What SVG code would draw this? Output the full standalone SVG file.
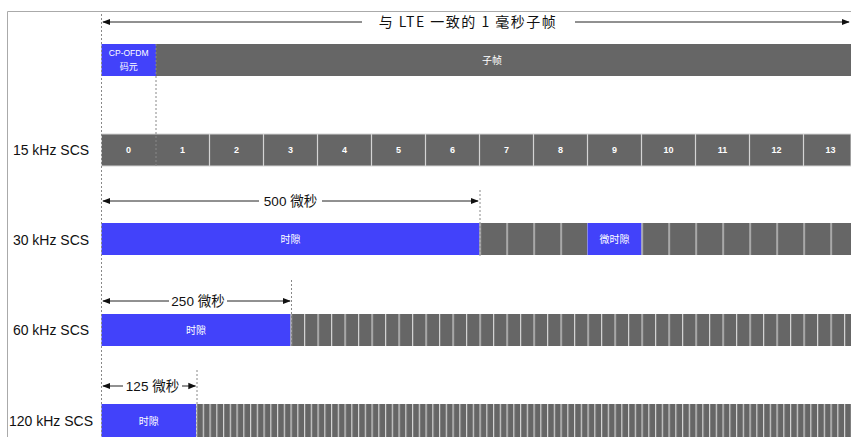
<svg xmlns="http://www.w3.org/2000/svg" width="851" height="437" viewBox="0 0 851 437">
<style>
.lbl{font-family:"Liberation Sans",Arial,sans-serif;font-size:14px;fill:#111;text-anchor:middle}
.cw{font-family:"Liberation Sans","Noto Sans CJK SC",sans-serif;font-size:9px;fill:#fff;text-anchor:middle;font-weight:bold}
.cj{font-family:"Noto Sans CJK SC",sans-serif;font-size:10px;fill:#fff;text-anchor:middle}
.dim{font-family:"Liberation Sans","Noto Sans CJK SC",sans-serif;font-size:13.5px;fill:#111;text-anchor:middle}
.gray{fill:#666666}
.blue{fill:#4242FA}
.sep{stroke:#d4d4d4;stroke-width:1.2}
.dot{stroke:#888;stroke-width:1;stroke-dasharray:2,2;fill:none}
.arr{stroke:#222;stroke-width:1;fill:none}
</style>
<defs>
<marker id="ah" viewBox="0 0 10 10" refX="9" refY="5" markerWidth="8" markerHeight="8" markerUnits="userSpaceOnUse" orient="auto-start-reverse">
<path d="M0,1 L10,5 L0,9 Z" fill="#111"/>
</marker>
<pattern id="p27" x="479.5" y="0" width="27" height="437" patternUnits="userSpaceOnUse">
<rect width="27" height="437" fill="#666"/><line x1="0.6" y1="0" x2="0.6" y2="437" stroke="#d4d4d4" stroke-width="1.2"/>
</pattern>
<pattern id="p13" x="290.5" y="0" width="13.5" height="437" patternUnits="userSpaceOnUse">
<rect width="13.5" height="437" fill="#666"/><line x1="0.6" y1="0" x2="0.6" y2="437" stroke="#d4d4d4" stroke-width="1.2"/>
</pattern>
<pattern id="p6" x="196" y="0" width="6.75" height="437" patternUnits="userSpaceOnUse">
<rect width="6.75" height="437" fill="#666"/><line x1="0.6" y1="0" x2="0.6" y2="437" stroke="#d4d4d4" stroke-width="1.2"/>
</pattern>
</defs>
<rect width="851" height="437" fill="#fff"/>
<g id="frame">
<path d="M7.5,437 V11.5 H851" stroke="#aaa" stroke-width="1" fill="none"/>
</g>

<g id="subframe-row">
<rect x="101.5" y="44" width="54.5" height="32" class="blue"/>
<text x="128.7" y="56" font-family="Liberation Sans, Arial, sans-serif" font-size="8.5" fill="#fff" text-anchor="middle">CP-OFDM</text>
<text x="128.7" y="69.5" class="cj" font-size="9" style="font-size:9px">码元</text>
<rect x="156" y="44" width="695" height="32" class="gray"/>
<text x="492" y="64" class="cj">子帧</text>
</g>

<g id="scs15">
<text x="51" y="155" class="lbl">15 kHz SCS</text>
<rect x="101.5" y="134" width="749.5" height="32" class="gray" stroke="#d4d4d4" stroke-width="1"/>
<g class="sep">
<line x1="209.5" y1="134" x2="209.5" y2="166"/><line x1="263.5" y1="134" x2="263.5" y2="166"/>
<line x1="317.5" y1="134" x2="317.5" y2="166"/><line x1="371.5" y1="134" x2="371.5" y2="166"/>
<line x1="425.5" y1="134" x2="425.5" y2="166"/><line x1="479.5" y1="134" x2="479.5" y2="166"/>
<line x1="533.5" y1="134" x2="533.5" y2="166"/><line x1="587.5" y1="134" x2="587.5" y2="166"/>
<line x1="641.5" y1="134" x2="641.5" y2="166"/><line x1="695.5" y1="134" x2="695.5" y2="166"/>
<line x1="749.5" y1="134" x2="749.5" y2="166"/><line x1="803.5" y1="134" x2="803.5" y2="166"/>
</g>
<text x="128.5" y="153" class="cw">0</text><text x="182.5" y="153" class="cw">1</text>
<text x="236.5" y="153" class="cw">2</text><text x="290.5" y="153" class="cw">3</text>
<text x="344.5" y="153" class="cw">4</text><text x="398.5" y="153" class="cw">5</text>
<text x="452.5" y="153" class="cw">6</text><text x="506.5" y="153" class="cw">7</text>
<text x="560.5" y="153" class="cw">8</text><text x="614.5" y="153" class="cw">9</text>
<text x="668.5" y="153" class="cw">10</text><text x="722.5" y="153" class="cw">11</text>
<text x="776.5" y="153" class="cw">12</text><text x="830.5" y="153" class="cw">13</text>
</g>

<g id="scs30">
<text x="51" y="245" class="lbl">30 kHz SCS</text>
<rect x="101.5" y="223" width="378" height="32" class="blue"/>
<text x="290.5" y="243" class="cj">时隙</text>
<rect x="479.5" y="223" width="108" height="32" fill="url(#p27)"/>
<rect x="587.5" y="223" width="54" height="32" class="blue"/>
<text x="614.5" y="243" class="cj">微时隙</text>
<rect x="641.5" y="223" width="209.5" height="32" fill="url(#p27)"/>
</g>

<g id="scs60">
<text x="51" y="335" class="lbl">60 kHz SCS</text>
<rect x="101.5" y="314" width="189" height="32" class="blue"/>
<text x="196" y="334" class="cj">时隙</text>
<rect x="290.5" y="314" width="560.5" height="32" fill="url(#p13)"/>
</g>

<g id="scs120">
<text x="51" y="426" class="lbl">120 kHz SCS</text>
<rect x="101.5" y="404" width="94.5" height="33" class="blue"/>
<text x="148.7" y="425" class="cj">时隙</text>
<rect x="196" y="404" width="655" height="33" fill="url(#p6)"/>
</g>

<g id="connectors">
<line x1="101.5" y1="14" x2="101.5" y2="437" class="dot"/>
<line x1="156" y1="44" x2="156" y2="166" class="dot" stroke="#ccc"/>
<line x1="480" y1="190" x2="480" y2="256" class="dot"/>
<line x1="291.5" y1="280" x2="291.5" y2="347" class="dot"/>
<line x1="197" y1="370" x2="197" y2="437" class="dot"/>

<line x1="362" y1="22" x2="103" y2="22" class="arr" marker-end="url(#ah)"/>
<line x1="575" y1="22" x2="849" y2="22" class="arr" marker-end="url(#ah)"/>
<line x1="259" y1="201" x2="103" y2="201" class="arr" marker-end="url(#ah)"/>
<line x1="322" y1="201" x2="478" y2="201" class="arr" marker-end="url(#ah)"/>
<line x1="169" y1="301" x2="103" y2="301" class="arr" marker-end="url(#ah)"/>
<line x1="227" y1="301" x2="290" y2="301" class="arr" marker-end="url(#ah)"/>
<line x1="123" y1="386" x2="103" y2="386" class="arr" marker-end="url(#ah)"/>
<line x1="182" y1="386" x2="195.5" y2="386" class="arr" marker-end="url(#ah)"/>
</g>

<g id="dimension-labels">
<text x="468" y="27" font-family="Noto Sans CJK SC, sans-serif" font-size="14" fill="#111" text-anchor="middle" letter-spacing="1.5">与 LTE 一致的 1 毫秒子帧</text>
<text x="290.5" y="206" class="dim">500 微秒</text>
<text x="198" y="306" class="dim">250 微秒</text>
<text x="152.5" y="391" class="dim">125 微秒</text>
</g>
</svg>
